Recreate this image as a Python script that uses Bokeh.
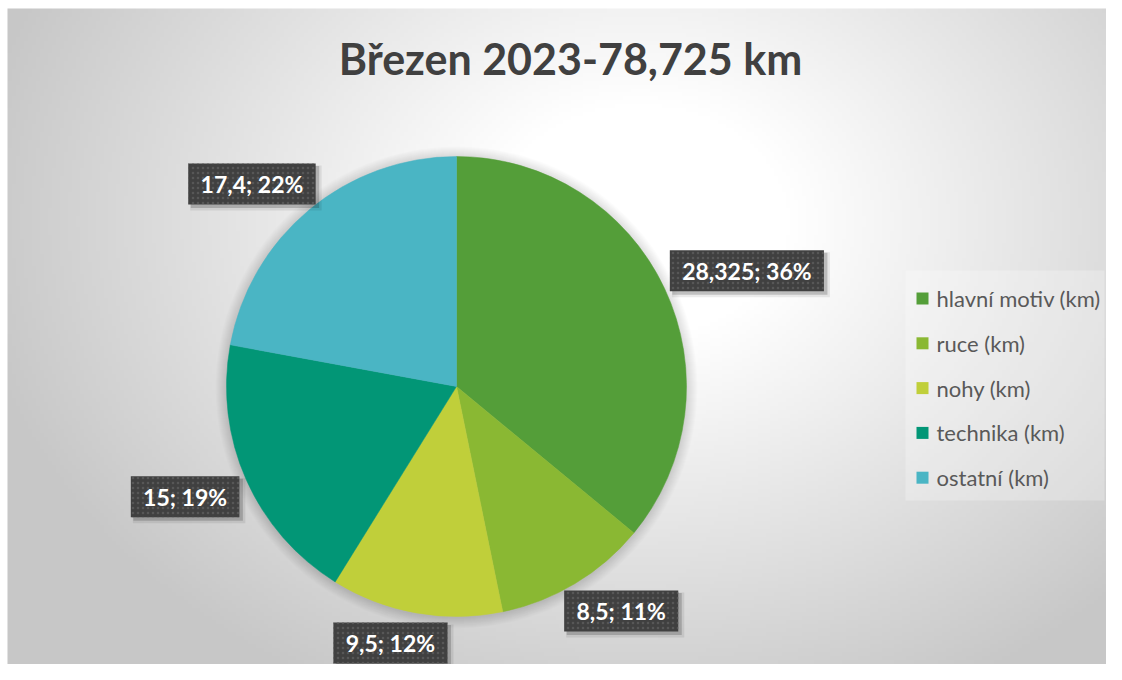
import numpy as np
from bokeh.plotting import figure
from bokeh.models import Range1d
from bokeh.core.properties import value
from bokeh.embed import file_html
from bokeh.resources import INLINE

# ---- data ----
categories = ["hlavní motiv (km)", "ruce (km)", "nohy (km)", "technika (km)", "ostatní (km)"]
values = [28.325, 8.5, 9.5, 15, 17.4]
colors = ["#549E39", "#8AB833", "#C0CF3A", "#029676", "#4AB5C4"]
title_prefix = "Březen 2023-"

W, H = 1106, 664
HT = 680  # reference height, y data = HT - pixel row
p = figure(width=W, height=H, output_backend="svg", toolbar_location=None,
           x_range=Range1d(0, W), y_range=Range1d(HT - H, HT),
           min_border=0)
p.axis.visible = False
p.grid.visible = False
p.outline_line_color = None
p.background_fill_color = "#ffffff"
p.border_fill_color = "#ffffff"

# ---- radial gradient background ----
bx0, bx1, by0, by1 = 7, W, HT - H, HT - 8
ds = 4
nx, ny = int((bx1 - bx0) / ds) + 1, int((by1 - by0) / ds) + 1
xs = np.linspace(bx0, bx1, nx)
ys = np.linspace(by0, by1, ny)
XX, YY = np.meshgrid(xs, ys)
gcx, gcy, rx, ry = 640.0, 460.0, 600.0, 470.0
r = np.sqrt(((XX - gcx) / rx) ** 2 + ((YY - gcy) / ry) ** 2)
t = np.clip((r - 0.25) / 0.88, 0, 1)
g = (255 - 56 * t).astype(np.uint32)
img = (255 << 24) | (g << 16) | (g << 8) | g
p.image_rgba(image=[img.astype(np.uint32)], x=bx0, y=by0, dw=bx1 - bx0, dh=by1 - by0)

# ---- pie ----
cx, cy, R = 456.0, HT - 386.0, 230.0
vals = np.array(values, dtype=float)
total = vals.sum()
frac = vals / total
cum = np.concatenate([[0], np.cumsum(frac)])
start = np.pi / 2 - 2 * np.pi * cum[1:]
end = np.pi / 2 - 2 * np.pi * cum[:-1]

# soft glow shadow
for k in range(1, 12):
    p.circle(x=cx, y=cy - 1, radius=R + k, fill_color="black", fill_alpha=0.012, line_color=None)

p.wedge(x=cx, y=cy, radius=R, start_angle=list(start), end_angle=list(end),
        fill_color=colors, line_color=colors, line_width=0.5)

# ---- data labels ----
font = "Lato"
fs = 23
cw = {",": 0.24, ";": 0.25, " ": 0.20, "%": 0.82}
def txt_width(s):
    return sum(cw.get(c, 0.58) for c in s) * fs

labels = []
for v, f in zip(vals, frac):
    labels.append(f"{v:g}".replace(".", ",") + "; " + f"{round(f * 100)}%")

mid = 2 * np.pi * (cum[:-1] + cum[1:]) / 2  # clockwise from top
bw = np.array([txt_width(s) + 26 for s in labels])
bh = np.full(len(labels), 41.0)
s_, c_ = np.sin(mid), np.cos(mid)
gap = 10
ax = cx + (R + gap) * s_
ay = cy + (R + gap) * c_
lx = ax + bw / 2 * np.sign(s_) * np.sqrt(np.abs(s_))
ly = ay + bh / 2 * np.sign(c_) * np.sqrt(np.abs(c_))

# shadows
p.rect(x=lx + 4, y=ly - 4, width=bw + 4, height=bh + 4, fill_color="black", fill_alpha=0.08, line_color=None)
p.rect(x=lx + 3, y=ly - 3, width=bw + 1, height=bh + 1, fill_color="black", fill_alpha=0.18, line_color=None)
p.rect(x=lx, y=ly, width=bw, height=bh, fill_color="#404040", line_color=None,
       hatch_pattern="dot", hatch_color="#5c5c5c", hatch_scale=5, hatch_weight=1.2, hatch_alpha=0.8)
p.text(x=lx, y=ly, text=labels, text_font=value(font), text_font_style="bold",
       text_font_size=f"{fs}px", text_color="white", text_align="center", text_baseline="middle")

# ---- title ----
title = title_prefix + f"{total:g}".replace(".", ",") + " km"
p.text(x=[570], y=[HT - 58], text=[title], text_font=value(font), text_font_style="bold",
       text_font_size="43px", text_color="#404040", text_align="center", text_baseline="middle")

# ---- legend ----
lg_left, lg_right, lg_top, lg_bottom = 905, 1104, HT - 270, HT - 500
p.quad(left=[lg_left], right=[lg_right], top=[lg_top], bottom=[lg_bottom],
       fill_color="white", fill_alpha=0.25, line_color=None)
n = len(categories)
ly0 = HT - 298
spacing = 44.8
leg_y = [ly0 - i * spacing for i in range(n)]
p.rect(x=[922] * n, y=leg_y, width=12, height=12, fill_color=colors, line_color=None)
p.text(x=[936] * n, y=leg_y, text=categories, text_font=value(font),
       text_font_size="22px", text_color="#595959", text_align="left", text_baseline="middle")

open("out.html", "w").write(file_html(p, INLINE))
